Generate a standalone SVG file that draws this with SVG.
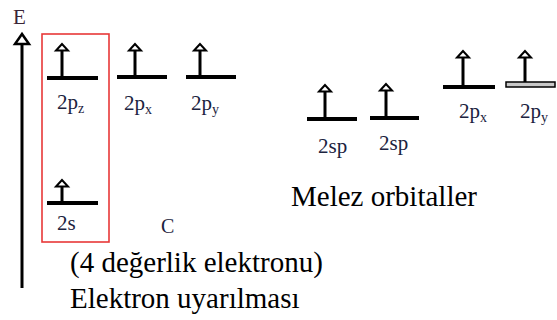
<svg xmlns="http://www.w3.org/2000/svg" width="557" height="320" viewBox="0 0 557 320">
<defs>
<style>
.lvl{stroke:#000;stroke-width:3.8;fill:none}
.stem{stroke:#000;stroke-width:3;fill:none}
.head{fill:#fff;stroke:#000;stroke-width:2}
.lab{font-size:21px;fill:#1c2340}
.sub{font-size:14px}
.big{font-size:29px;fill:#000}
</style>
</defs>
<rect width="557" height="320" fill="#fff"/>
<g font-family="'Liberation Serif', 'Times New Roman', 'DejaVu Serif', serif">
<g id="axis">
<line x1="22" y1="44" x2="22" y2="288" stroke="#000" stroke-width="3"/>
<polygon points="22,34 15,44 29,44" fill="#fff" stroke="#000" stroke-width="2.5"/>
<text x="13" y="24" font-size="21" fill="#3a2536">E</text>
</g>
<g id="carbon-box">
<rect x="42" y="34" width="67" height="208" fill="none" stroke="#e83838" stroke-width="1.6"/>
</g>
<g id="orb-2pz">
<line class="lvl" x1="47" y1="78" x2="98" y2="78"/>
<line class="stem" x1="62" y1="50" x2="62" y2="78"/>
<polygon class="head" points="62,44 56,50.5 68,50.5"/>
<text class="lab" x="57" y="109">2p<tspan class="sub" dy="4">z</tspan></text>
</g>
<g id="orb-2px">
<line class="lvl" x1="117" y1="77" x2="167" y2="77"/>
<line class="stem" x1="135" y1="50" x2="135" y2="77"/>
<polygon class="head" points="135,44 129,50.5 141,50.5"/>
<text class="lab" x="124" y="110">2p<tspan class="sub" dy="4">x</tspan></text>
</g>
<g id="orb-2py">
<line class="lvl" x1="186" y1="77" x2="236" y2="77"/>
<line class="stem" x1="200" y1="50" x2="200" y2="77"/>
<polygon class="head" points="200,44 194,50.5 206,50.5"/>
<text class="lab" x="191" y="110">2p<tspan class="sub" dy="4">y</tspan></text>
</g>
<g id="orb-2s">
<line class="lvl" x1="47" y1="203" x2="98" y2="203"/>
<line class="stem" x1="62" y1="186" x2="62" y2="203"/>
<polygon class="head" points="62,180 56,186.5 68,186.5"/>
<text class="lab" x="57" y="230">2s</text>
</g>
<g id="orb-sp1">
<line class="lvl" x1="307" y1="119" x2="357" y2="119"/>
<line class="stem" x1="325" y1="91" x2="325" y2="119"/>
<polygon class="head" points="325,85 319,91.5 331,91.5"/>
<text class="lab" x="318" y="153">2sp</text>
</g>
<g id="orb-sp2">
<line class="lvl" x1="370" y1="118" x2="419" y2="118"/>
<line class="stem" x1="386" y1="90" x2="386" y2="118"/>
<polygon class="head" points="386,84 380,90.5 392,90.5"/>
<text class="lab" x="379" y="150">2sp</text>
</g>
<g id="orb-hpx">
<line class="lvl" x1="443" y1="87" x2="495" y2="87"/>
<line class="stem" x1="463" y1="57" x2="463" y2="87"/>
<polygon class="head" points="463,51 457,57.5 469,57.5"/>
<text class="lab" x="459" y="118">2p<tspan class="sub" dy="4">x</tspan></text>
</g>
<g id="orb-hpy">
<rect x="506" y="82" width="49" height="5" fill="#c8c8c8" stroke="#000" stroke-width="1.5"/>
<line class="stem" x1="525" y1="57" x2="525" y2="82"/>
<polygon class="head" points="525,51 519,57.5 531,57.5"/>
<text class="lab" x="520" y="118">2p<tspan class="sub" dy="4">y</tspan></text>
</g>
<g id="texts">
<text x="161" y="233" font-size="20" fill="#1c2340">C</text>
<text class="big" x="291" y="206">Melez orbitaller</text>
<text class="big" x="70" y="272">(4 değerlik elektronu)</text>
<text class="big" x="70" y="308">Elektron uyarılması</text>
</g>
</g>
<g id="connectors"/>
</svg>
